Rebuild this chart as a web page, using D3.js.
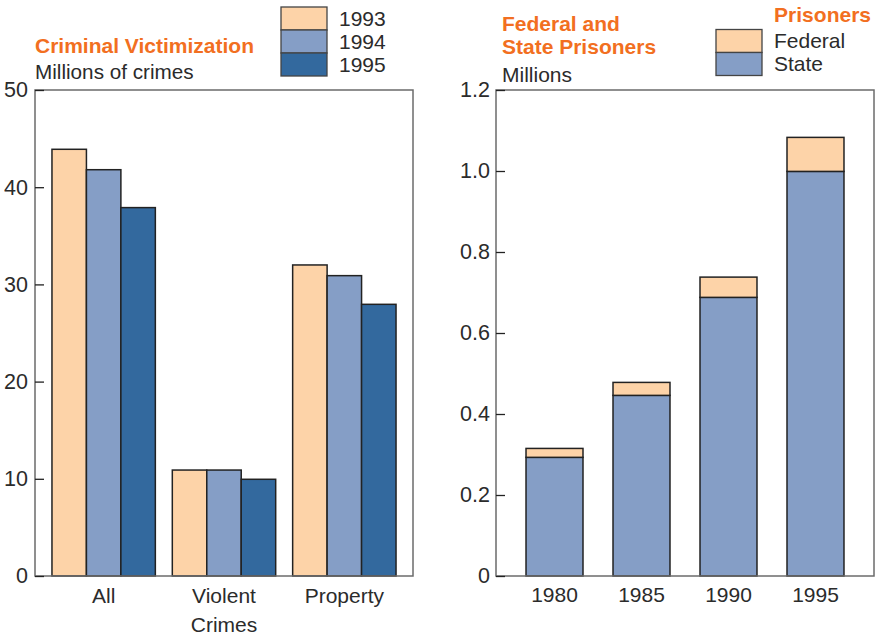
<!DOCTYPE html>
<html>
<head>
<meta charset="utf-8">
<script src="https://cdn.jsdelivr.net/npm/d3@7"></script>
<style>
  body { margin: 0; background: #fff; }
  text { font-family: "Liberation Sans", Arial, sans-serif; fill: #2b2b2b; }
  .title { fill: #f26f21; font-weight: bold; }
</style>
</head>
<body>
<svg id="chart"></svg>
<script>
// left panel: criminal victimization, millions of crimes
const crimeTypes = ["All", "Violent\nCrimes", "Property"];
const crimeYears = ["1993", "1994", "1995"];
const crimes1993 = [43.9, 10.9, 32.0];
const crimes1994 = [41.8, 10.9, 30.9];
const crimes1995 = [37.9, 9.95, 27.95];
const crimeTicks = [0, 10, 20, 30, 40, 50];

// right panel: federal and state prisoners, millions
const prisonYears = ["1980", "1985", "1990", "1995"];
const statePrisoners = [0.293, 0.446, 0.688, 0.999];
const federalPrisoners = [0.022, 0.032, 0.050, 0.084];
const prisonTicks = [0, 0.2, 0.4, 0.6, 0.8, 1.0, 1.2];
const prisonTickLabels = ["0", "0.2", "0.4", "0.6", "0.8", "1.0", "1.2"];

const width = 879;
const height = 638;
const plotTop = 90;
const plotBottom = 576;
const panelW = 378;

const peach = "#fdd3a8";
const lightBlue = "#859ec6";
const darkBlue = "#33699e";
const edge = "#222";

const svg = d3.select("#chart")
              .attr("width", width)
              .attr("height", height);

// ---------- left panel ----------
const lx = 35;
const crimeSeries = [crimes1993, crimes1994, crimes1995];
const crimeColors = [peach, lightBlue, darkBlue];

const xGroup = d3.scaleBand()
                 .domain(crimeTypes)
                 .range([lx, lx + panelW])
                 .paddingInner(0.141)
                 .paddingOuter(0.141);

const xSub = d3.scaleBand()
               .domain(crimeYears)
               .range([0, xGroup.bandwidth()]);

const yCrime = d3.scaleLinear()
                 .domain([0, 50])
                 .range([plotBottom, plotTop]);

const left = svg.append("g");

crimeTypes.forEach((c, i) => {
  left.selectAll(".bar-" + i)
      .data(crimeYears)
      .enter()
      .append("rect")
      .attr("x", (y, j) => xGroup(c) + xSub(y))
      .attr("y", (y, j) => yCrime(crimeSeries[j][i]))
      .attr("width", xSub.bandwidth())
      .attr("height", (y, j) => plotBottom - yCrime(crimeSeries[j][i]))
      .attr("fill", (y, j) => crimeColors[j])
      .attr("stroke", edge)
      .attr("stroke-width", 1.5);
});

left.append("rect")
    .attr("x", lx).attr("y", plotTop)
    .attr("width", panelW).attr("height", plotBottom - plotTop)
    .attr("fill", "none")
    .attr("stroke", "#6b6b6b")
    .attr("stroke-width", 1.5);

const yAxisL = left.append("g")
    .attr("transform", `translate(${lx},0)`)
    .call(d3.axisLeft(yCrime).tickValues(crimeTicks).tickSizeInner(-9).tickSizeOuter(0).tickPadding(7));
yAxisL.select(".domain").remove();
yAxisL.selectAll("line").attr("stroke", "#222").attr("stroke-width", 1.3);
yAxisL.selectAll("text").attr("font-size", 21.5).attr("fill", "#2b2b2b");

const xAxisL = left.append("g")
    .attr("transform", `translate(0,${plotBottom})`)
    .call(d3.axisBottom(xGroup).tickSize(0).tickPadding(12));
xAxisL.select(".domain").remove();
xAxisL.selectAll("text")
      .attr("font-size", 21)
      .attr("fill", "#2b2b2b")
      .each(function (d) {
        const t = d3.select(this);
        t.text(null);
        d.split("\n").forEach((line, k) => {
          t.append("tspan").attr("x", 0).attr("dy", k === 0 ? "0.71em" : "1.38em").text(line);
        });
      })
      .attr("dy", null);

left.append("text").attr("class", "title")
    .attr("x", 35).attr("y", 53).attr("font-size", 21)
    .text("Criminal Victimization");
left.append("text")
    .attr("x", 35).attr("y", 79).attr("font-size", 20.7)
    .text("Millions of crimes");

// legend left
const legL = left.append("g").attr("transform", "translate(281,7)");
crimeYears.forEach((y, j) => {
  legL.append("rect")
      .attr("x", 0).attr("y", j * 23)
      .attr("width", 46).attr("height", 23)
      .attr("fill", crimeColors[j])
      .attr("stroke", "#444").attr("stroke-width", 1.3);
  legL.append("text")
      .attr("x", 58).attr("y", j * 23 + 11.5).attr("dy", "0.35em")
      .attr("font-size", 21)
      .text(y);
});

// ---------- right panel ----------
const rx = 496;

const xPrison = d3.scaleBand()
                  .domain(prisonYears)
                  .range([rx, rx + panelW])
                  .paddingInner(0.345)
                  .paddingOuter(0.345);

const yPrison = d3.scaleLinear()
                  .domain([0, 1.2])
                  .range([plotBottom, plotTop]);

const right = svg.append("g");

right.selectAll(".state")
     .data(prisonYears)
     .enter()
     .append("rect")
     .attr("class", "state")
     .attr("x", d => xPrison(d))
     .attr("y", (d, i) => yPrison(statePrisoners[i]))
     .attr("width", xPrison.bandwidth())
     .attr("height", (d, i) => plotBottom - yPrison(statePrisoners[i]))
     .attr("fill", lightBlue)
     .attr("stroke", edge)
     .attr("stroke-width", 1.5);

right.selectAll(".federal")
     .data(prisonYears)
     .enter()
     .append("rect")
     .attr("class", "federal")
     .attr("x", d => xPrison(d))
     .attr("y", (d, i) => yPrison(statePrisoners[i] + federalPrisoners[i]))
     .attr("width", xPrison.bandwidth())
     .attr("height", (d, i) => yPrison(statePrisoners[i]) - yPrison(statePrisoners[i] + federalPrisoners[i]))
     .attr("fill", peach)
     .attr("stroke", edge)
     .attr("stroke-width", 1.5);

right.append("rect")
     .attr("x", rx).attr("y", plotTop)
     .attr("width", panelW).attr("height", plotBottom - plotTop)
     .attr("fill", "none")
     .attr("stroke", "#6b6b6b")
     .attr("stroke-width", 1.5);

const yAxisR = right.append("g")
    .attr("transform", `translate(${rx},0)`)
    .call(d3.axisLeft(yPrison).tickValues(prisonTicks)
            .tickFormat((d, i) => prisonTickLabels[i])
            .tickSizeInner(-9).tickSizeOuter(0).tickPadding(6));
yAxisR.select(".domain").remove();
yAxisR.selectAll("line").attr("stroke", "#222").attr("stroke-width", 1.3);
yAxisR.selectAll("text").attr("font-size", 21.5).attr("fill", "#2b2b2b");

const xAxisR = right.append("g")
    .attr("transform", `translate(0,${plotBottom})`)
    .call(d3.axisBottom(xPrison).tickSize(0).tickPadding(11));
xAxisR.select(".domain").remove();
xAxisR.selectAll("text").attr("font-size", 21).attr("fill", "#2b2b2b");

right.append("text").attr("class", "title")
     .attr("x", 502).attr("y", 31).attr("font-size", 21)
     .text("Federal and");
right.append("text").attr("class", "title")
     .attr("x", 502).attr("y", 54).attr("font-size", 21)
     .text("State Prisoners");
right.append("text")
     .attr("x", 502).attr("y", 82).attr("font-size", 21)
     .text("Millions");

// legend right
right.append("text").attr("class", "title")
     .attr("x", 871).attr("y", 22).attr("font-size", 21)
     .attr("text-anchor", "end")
     .text("Prisoners");
const legR = right.append("g").attr("transform", "translate(716,29.5)");
[["Federal", peach], ["State", lightBlue]].forEach(([name, col], j) => {
  legR.append("rect")
      .attr("x", 0).attr("y", j * 23)
      .attr("width", 46).attr("height", 23)
      .attr("fill", col)
      .attr("stroke", "#444").attr("stroke-width", 1.3);
  legR.append("text")
      .attr("x", 58).attr("y", j * 23 + 11.5).attr("dy", "0.35em")
      .attr("font-size", 21)
      .text(name);
});
</script>
</body>
</html>
